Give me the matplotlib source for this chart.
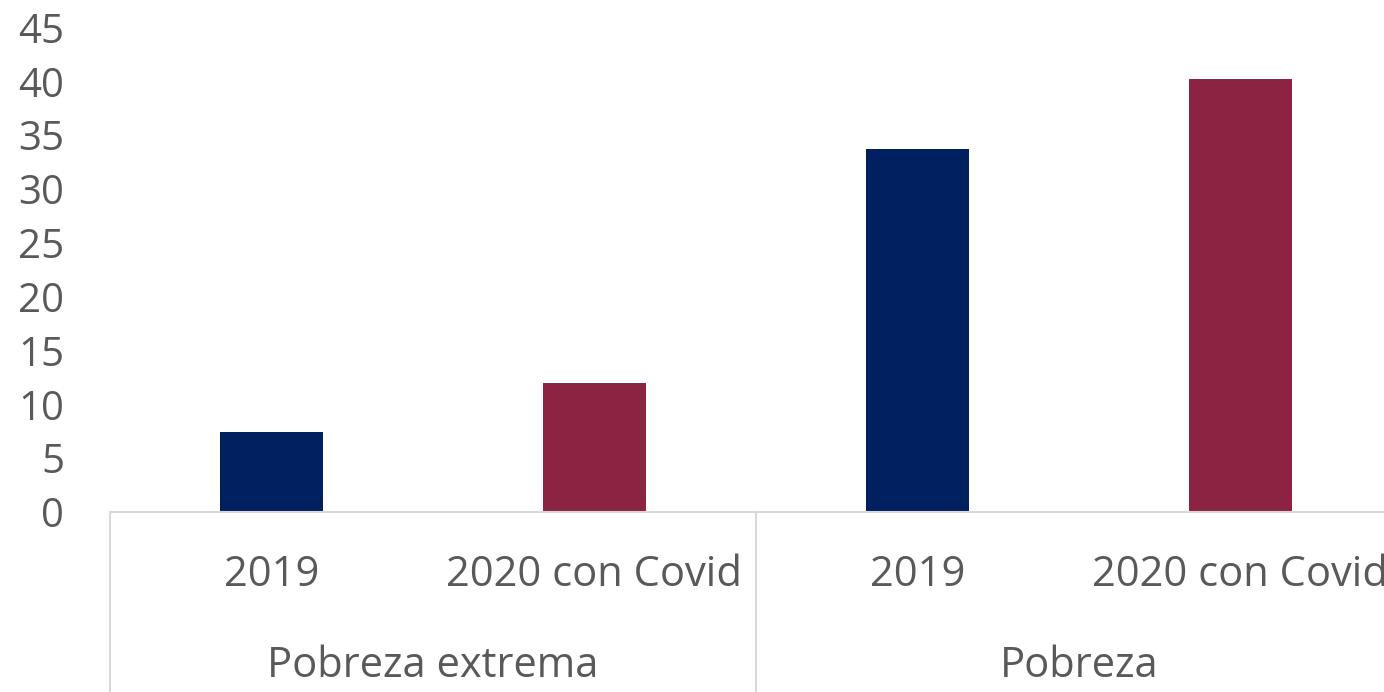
import numpy as np
import matplotlib
matplotlib.use("Agg")
import matplotlib.pyplot as plt

# data
groups = ["Pobreza extrema", "Pobreza"]
periods = ["2019", "2020 con Covid"]
values_2019 = [7.4, 33.7]
values_2020 = [12.0, 40.2]
period_colors = ["#002060", "#8B2442"]

TEXT = "#595959"
LINE = "#d9d9d9"

plt.rcParams["font.family"] = ["Open Sans", "DejaVu Sans"]


def main():
    fig = plt.figure(figsize=(13.84, 6.92), dpi=100)
    ax = fig.add_axes([110 / 1384, 180 / 692, 1292 / 1384, 484.5 / 692])

    # one slot per (group, period), grouped like an Excel multi-level axis
    labels, heights, colors = [], [], []
    for g in range(len(groups)):
        for p, series in enumerate([values_2019, values_2020]):
            labels.append(periods[p])
            heights.append(series[g])
            colors.append(period_colors[p])
    x = np.arange(len(heights))

    ax.bar(x, heights, width=0.316, color=colors, zorder=2)

    ax.set_xlim(-0.5, len(x) - 0.5)
    ax.set_ylim(0, 45)
    ax.set_yticks(np.arange(0, 46, 5))
    ax.tick_params(axis="y", length=0, pad=33, labelsize=29, labelcolor=TEXT)
    ax.set_xticks([])

    for side in ["top", "right", "left"]:
        ax.spines[side].set_visible(False)
    ax.spines["bottom"].set_color(LINE)
    ax.spines["bottom"].set_linewidth(1.5)

    trans = ax.get_xaxis_transform()
    for xi, lab in zip(x, labels):
        ax.text(xi, -63 / 484.5, lab, transform=trans, ha="center",
                va="center", fontsize=30, color=TEXT)

    n_per = len(periods)
    for g, name in enumerate(groups):
        center = g * n_per + (n_per - 1) / 2
        ax.text(center, -154 / 484.5, name, transform=trans, ha="center",
                va="center", fontsize=30, color=TEXT)

    # vertical separators between groups
    for b in np.arange(-0.5, len(x), n_per):
        ax.plot([b, b], [0, -0.372], transform=trans, color=LINE,
                linewidth=1.5, clip_on=False)

    fig.savefig("out.png", dpi=100)


if __name__ == "__main__":
    main()
